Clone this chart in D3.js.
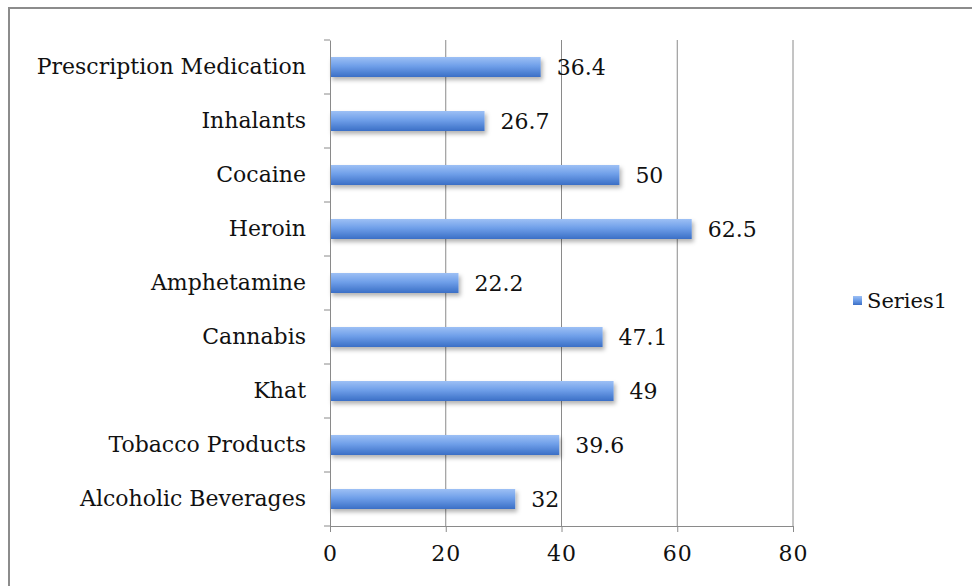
<!DOCTYPE html>
<html>
    <head>
        <meta charset="utf-8">
        <style>
            html, body {
                margin: 0px;
                padding: 0px;
                background-color: #ffffff;
            }
            svg text {
                font-family: "DejaVu Serif", "Liberation Serif", serif;
                fill: #111;
            }
            .axis .domain, .axis line {
                stroke: #8a8a8a;
            }
        </style>
        <script src="https://cdn.jsdelivr.net/npm/d3@7"></script>
    </head>
    <body>
        <div id="main"></div>
        <script>
            var categories = ["Prescription Medication", "Inhalants", "Cocaine", "Heroin",
                              "Amphetamine", "Cannabis", "Khat", "Tobacco Products", "Alcoholic Beverages"];
            var values = [36.4, 26.7, 50, 62.5, 22.2, 47.1, 49, 39.6, 32];
            var xTicks = [0, 20, 40, 60, 80];
            var seriesName = "Series1";

            var width = 972, height = 586;
            var plotLeft = 330, plotRight = 793, plotTop = 40, plotBottom = 526;
            var fontSize = "22px";

            var svg = d3.select("#main").append("svg")
                .attr("width", width)
                .attr("height", height);

            var defs = svg.append("defs");
            var grad = defs.append("linearGradient")
                .attr("id", "barGrad")
                .attr("x1", 0).attr("y1", 0).attr("x2", 0).attr("y2", 1);
            grad.append("stop").attr("offset", "0%").attr("stop-color", "#9dc0f5");
            grad.append("stop").attr("offset", "45%").attr("stop-color", "#6f9fe9");
            grad.append("stop").attr("offset", "100%").attr("stop-color", "#3b6fc6");

            var shadow = defs.append("filter").attr("id", "shadow")
                .attr("x", "-5%").attr("y", "-30%").attr("width", "115%").attr("height", "190%");
            shadow.append("feDropShadow")
                .attr("dx", 2).attr("dy", 3).attr("stdDeviation", 2)
                .attr("flood-color", "#000").attr("flood-opacity", 0.3);

            // outer chart border
            svg.append("rect")
                .attr("x", 9).attr("y", 8)
                .attr("width", width + 10).attr("height", height + 10)
                .attr("fill", "none")
                .attr("stroke", "#8c8c8c")
                .attr("stroke-width", 2);

            var x = d3.scaleLinear().domain([0, 80]).range([plotLeft, plotRight]);
            var y = d3.scaleBand().domain(categories).range([plotTop, plotBottom]);

            // vertical gridlines
            svg.append("g").selectAll("line")
                .data(xTicks.slice(1))
                .enter().append("line")
                .attr("x1", function(d) { return x(d); })
                .attr("x2", function(d) { return x(d); })
                .attr("y1", plotTop).attr("y2", plotBottom)
                .attr("stroke", "#8a8a8a")
                .attr("stroke-width", 1);

            // bars
            var barH = 20;
            svg.append("g").selectAll("rect")
                .data(values)
                .enter().append("rect")
                .attr("x", x(0))
                .attr("y", function(d, i) { return y(categories[i]) + y.bandwidth() / 2 - barH / 2; })
                .attr("width", function(d) { return x(d) - x(0); })
                .attr("height", barH)
                .attr("fill", "url(#barGrad)")
                .attr("filter", "url(#shadow)");

            // value labels
            svg.append("g").selectAll("text")
                .data(values)
                .enter().append("text")
                .attr("x", function(d) { return x(d) + 16; })
                .attr("y", function(d, i) { return y(categories[i]) + y.bandwidth() / 2; })
                .attr("dy", "0.36em")
                .style("font-size", fontSize)
                .text(function(d) { return d; });

            // y axis
            var yAxis = svg.append("g")
                .attr("class", "axis")
                .attr("transform", "translate(" + plotLeft + ",0)")
                .call(d3.axisLeft(y).tickSize(0).tickPadding(24));
            yAxis.selectAll("text").style("font-size", fontSize);
            // category boundary ticks
            var bounds = categories.map(function(c) { return y(c); }).concat([plotBottom]);
            yAxis.selectAll(".bound").data(bounds).enter().append("line")
                .attr("class", "bound")
                .attr("x1", -6).attr("x2", 0)
                .attr("y1", function(d) { return d; })
                .attr("y2", function(d) { return d; });

            // x axis
            var xAxis = svg.append("g")
                .attr("class", "axis")
                .attr("transform", "translate(0," + plotBottom + ")")
                .call(d3.axisBottom(x).tickValues(xTicks).tickSize(6).tickSizeOuter(0).tickPadding(13));
            xAxis.selectAll("text")
                .style("font-size", fontSize)
                .style("letter-spacing", "1px");

            // legend
            var legend = svg.append("g").attr("transform", "translate(853,296)");
            legend.append("rect")
                .attr("width", 9).attr("height", 9)
                .attr("fill", "url(#barGrad)");
            legend.append("text")
                .attr("x", 14).attr("y", 4.5)
                .attr("dy", "0.36em")
                .style("font-size", "21px")
                .text(seriesName);
        </script>
    </body>
</html>
